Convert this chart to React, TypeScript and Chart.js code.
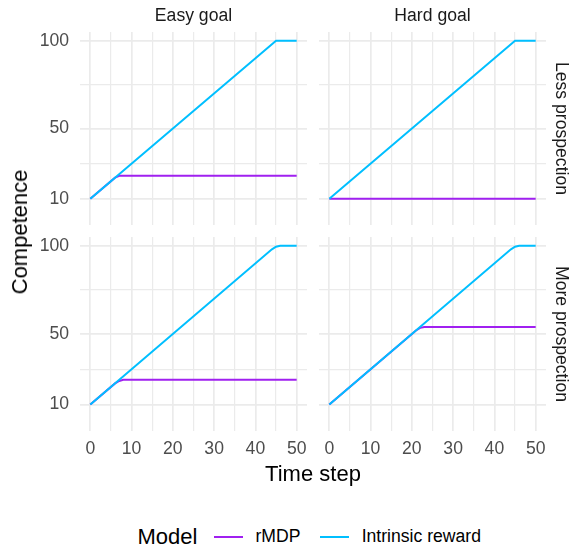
import React, { useEffect, useRef } from 'react';
import { Chart, registerables } from 'chart.js';

Chart.register(...registerables);

// ---------- data ----------
const timeTicks = [0, 5, 10, 15, 20, 25, 30, 35, 40, 45, 50];
const timeLabels = [0, 10, 20, 30, 40, 50];
const competenceTicks = [10, 30, 50, 75, 100];
const competenceLabels = [10, 50, 100];

const colTitles = ['Easy goal', 'Hard goal'];
const rowTitles = ['Less prospection', 'More prospection'];
const modelNames = ['rMDP', 'Intrinsic reward'];
const legendTitle = 'Model';
const xTitle = 'Time step';
const yTitle = 'Competence';

// Easy goal, less prospection
const easyLessRmdpT = [0, 6, 7, 50];
const easyLessRmdpV = [10, 22, 23, 23];
const easyLessIntrT = [0, 45, 50];
const easyLessIntrV = [10, 100, 100];
// Hard goal, less prospection
const hardLessRmdpT = [0, 50];
const hardLessRmdpV = [10, 10];
const hardLessIntrT = [0, 45, 50];
const hardLessIntrV = [10, 100, 100];
// Easy goal, more prospection
const easyMoreRmdpT = [0, 6, 7, 8, 50];
const easyMoreRmdpV = [10, 22, 23.4, 24, 24];
const easyMoreIntrT = [0, 44, 45, 46, 50];
const easyMoreIntrV = [10, 98, 99.5, 100, 100];
// Hard goal, more prospection
const hardMoreRmdpT = [0, 21, 22, 23, 50];
const hardMoreRmdpV = [10, 52, 53.5, 54, 54];
const hardMoreIntrT = [0, 44, 45, 46, 50];
const hardMoreIntrV = [10, 98, 99.5, 100, 100];

// ---------- styles ----------
const FONT = "'Liberation Sans', Arial, Helvetica, sans-serif";
const modelColors = ['#A020F0', '#00BFFF'];
const GRID = '#EBEBEB';
const TICK_COLOR = '#4D4D4D';
const STRIP_COLOR = '#1A1A1A';
const SMALL = 17.6;
const BIG = 22;

Chart.defaults.font.family = FONT;

const toPoints = (t: number[], v: number[]) => t.map((x, i) => ({ x, y: v[i] }));

type PanelDef = {
  row: number;
  col: number;
  rT: number[]; rV: number[];
  iT: number[]; iV: number[];
};

const panels: PanelDef[] = [
  { row: 0, col: 0, rT: easyLessRmdpT, rV: easyLessRmdpV, iT: easyLessIntrT, iV: easyLessIntrV },
  { row: 0, col: 1, rT: hardLessRmdpT, rV: hardLessRmdpV, iT: hardLessIntrT, iV: hardLessIntrV },
  { row: 1, col: 0, rT: easyMoreRmdpT, rV: easyMoreRmdpV, iT: easyMoreIntrT, iV: easyMoreIntrV },
  { row: 1, col: 1, rT: hardMoreRmdpT, rV: hardMoreRmdpV, iT: hardMoreIntrT, iV: hardMoreIntrV },
];

// geometry
const PANEL_W = 227;
const PANEL_H = [193, 194];
const PANEL_LEFT = [80, 319];
const PANEL_TOP = [32, 237];
const Y_AXIS_W = 80;
const STRIP_W = 27;
const STRIP_TOP_H = 32;
const X_AXIS_H = 35;

function makeConfig(p: PanelDef): any {
  const showY = p.col === 0;
  const showX = p.row === 1;
  const font = { family: FONT, size: SMALL };
  const scales: any = {
    x: {
      type: 'linear',
      min: -2.5,
      max: 52.5,
      afterBuildTicks: (s: any) => {
        s.ticks = timeTicks.map((v) => ({ value: v }));
      },
      ticks: {
        display: showX,
        autoSkip: false,
        maxRotation: 0,
        minRotation: 0,
        padding: 8,
        color: TICK_COLOR,
        font,
        callback: (v: number) => (timeLabels.includes(v) ? String(v) : ''),
      },
      grid: {
        color: GRID,
        drawTicks: false,
        lineWidth: (c: any) => (c.tick && timeLabels.includes(c.tick.value) ? 1.7 : 1.2),
      },
      border: { display: false },
      afterFit: (s: any) => {
        s.height = showX ? X_AXIS_H : 0;
        s.paddingLeft = 0;
        s.paddingRight = 0;
        s.paddingTop = 0;
        s.paddingBottom = 0;
      },
    },
    y: {
      type: 'linear',
      position: 'left',
      min: -5,
      max: 105,
      afterBuildTicks: (s: any) => {
        s.ticks = competenceTicks.map((v) => ({ value: v }));
      },
      ticks: {
        display: showY,
        autoSkip: false,
        padding: 11,
        color: TICK_COLOR,
        font,
        callback: (v: number) => (competenceLabels.includes(v) ? String(v) : ''),
      },
      grid: {
        color: GRID,
        drawTicks: false,
        lineWidth: (c: any) => (c.tick && competenceLabels.includes(c.tick.value) ? 1.7 : 1.2),
      },
      border: { display: false },
      afterFit: (s: any) => {
        s.width = showY ? Y_AXIS_W : 0;
        s.paddingLeft = 0;
        s.paddingRight = 0;
        s.paddingTop = 0;
        s.paddingBottom = 0;
      },
    },
  };
  if (p.col === 1) {
    scales.strip = {
      type: 'linear',
      position: 'right',
      min: 0,
      max: 1,
      ticks: { display: false },
      grid: { display: false },
      border: { display: false },
      title: {
        display: true,
        text: rowTitles[p.row],
        color: STRIP_COLOR,
        font,
        padding: { top: 1.5, bottom: 0 },
      },
      afterFit: (s: any) => {
        s.width = STRIP_W;
        s.paddingTop = 0;
        s.paddingBottom = 0;
      },
    };
  }
  return {
    type: 'line',
    data: {
      datasets: [
        {
          label: modelNames[0],
          data: toPoints(p.rT, p.rV),
          borderColor: modelColors[0],
          backgroundColor: modelColors[0],
          borderWidth: 2,
          pointRadius: 0,
          tension: 0,
          fill: false,
          order: 2,
        },
        {
          label: modelNames[1],
          data: toPoints(p.iT, p.iV),
          borderColor: modelColors[1],
          backgroundColor: modelColors[1],
          borderWidth: 2,
          pointRadius: 0,
          tension: 0,
          fill: false,
          order: 1,
        },
      ],
    },
    options: {
      responsive: false,
      maintainAspectRatio: false,
      devicePixelRatio: 1,
      animation: false,
      layout: { padding: 0 },
      scales,
      plugins: {
        legend: { display: false },
        tooltip: { enabled: false },
        title: {
          display: p.row === 0,
          text: colTitles[p.col],
          fullSize: false,
          color: STRIP_COLOR,
          font: { family: FONT, size: SMALL, weight: 'normal' },
          padding: { top: 6, bottom: STRIP_TOP_H - 6 - SMALL * 1.2 },
        },
      },
    },
  };
}

function Panel({ p }: { p: PanelDef }) {
  const ref = useRef<HTMLCanvasElement>(null);
  const left = p.col === 0 ? 0 : PANEL_LEFT[1];
  const width = p.col === 0 ? PANEL_LEFT[0] + PANEL_W : PANEL_W + STRIP_W;
  const top = p.row === 0 ? 0 : PANEL_TOP[1];
  const height = p.row === 0 ? STRIP_TOP_H + PANEL_H[0] : PANEL_H[1] + X_AXIS_H;
  useEffect(() => {
    const chart = new Chart(ref.current as HTMLCanvasElement, makeConfig(p));
    return () => chart.destroy();
  }, []);
  return (
    <canvas
      ref={ref}
      width={width}
      height={height}
      style={{ position: 'absolute', left, top, width, height, display: 'block' }}
    />
  );
}

function Text({ text, cx, cy, size, color = '#000', rotate = 0 }: any) {
  return (
    <div
      style={{
        position: 'absolute',
        left: cx,
        top: cy,
        transform: `translate(-50%, -50%) rotate(${rotate}deg)`,
        fontSize: size,
        lineHeight: `${size}px`,
        height: size,
        color,
        whiteSpace: 'nowrap',
        fontFamily: FONT,
      }}
    >
      {text}
    </div>
  );
}

function LegendText({ text, left, cy, size }: any) {
  return (
    <div
      style={{
        position: 'absolute',
        left,
        top: cy - size / 2,
        fontSize: size,
        lineHeight: `${size}px`,
        height: size,
        color: '#000',
        whiteSpace: 'nowrap',
        fontFamily: FONT,
      }}
    >
      {text}
    </div>
  );
}

function LegendKey({ left, cy, color }: any) {
  return (
    <div
      style={{
        position: 'absolute',
        left,
        top: cy - 1,
        width: 29,
        height: 2,
        background: color,
      }}
    />
  );
}

export default function App() {
  const legendY = 537;
  return (
    <div
      style={{
        position: 'absolute',
        left: 0,
        top: 0,
        width: 573,
        height: 548,
        background: '#fff',
        overflow: 'hidden',
        fontFamily: FONT,
      }}
    >
      {panels.map((p, i) => (
        <Panel key={i} p={p} />
      ))}
      <Text text={yTitle} cx={19.5} cy={231.5} size={BIG} rotate={-90} />
      <Text text={xTitle} cx={313} cy={473.5} size={BIG} />
      <LegendText text={legendTitle} left={137.5} cy={legendY} size={BIG} />
      <LegendKey left={214} cy={legendY} color={modelColors[0]} />
      <LegendText text={modelNames[0]} left={255.5} cy={legendY} size={SMALL} />
      <LegendKey left={319.5} cy={legendY} color={modelColors[1]} />
      <LegendText text={modelNames[1]} left={361.7} cy={legendY} size={SMALL} />
    </div>
  );
}
